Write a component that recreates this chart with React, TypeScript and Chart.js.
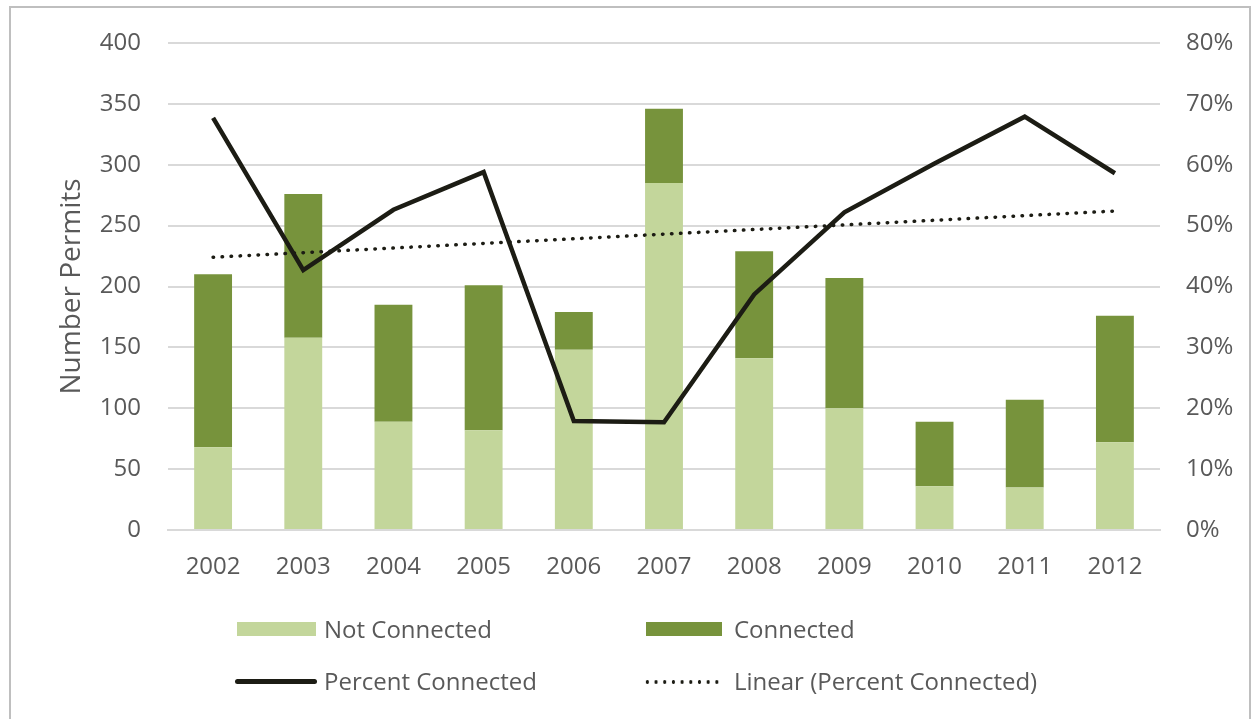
import React, { useEffect, useRef } from "react";
import { Chart, registerables } from "chart.js";

Chart.register(...registerables);

const years = ["2002", "2003", "2004", "2005", "2006", "2007", "2008", "2009", "2010", "2011", "2012"];
const notConnected = [68, 158, 89, 82, 148, 285, 141, 100, 36, 35, 72];
const connected = [142, 118, 96, 119, 31, 61, 88, 107, 53, 72, 104];
const percentConnected = [67.7, 42.7, 52.6, 58.8, 17.9, 17.7, 38.7, 52.2, 60.2, 67.9, 58.6];
const trendLine = [44.8, null, null, null, null, null, null, null, null, null, 52.4];

const FONT = "'Open Sans', 'DejaVu Sans', sans-serif";
const TXT = "#595959";
const LIGHT = "#C3D69B";
const DARK = "#77933C";
const LINE = "#1C1C14";
const TICK_SIZE = 24;

export default function App() {
  const ref = useRef<HTMLCanvasElement | null>(null);

  useEffect(() => {
    document.body.style.margin = "0";
    const ctx = ref.current!.getContext("2d")!;
    const chart = new Chart(ctx, {
      type: "bar",
      data: {
        labels: years,
        datasets: [
          {
            type: "line",
            label: "Percent Connected",
            data: percentConnected,
            yAxisID: "y1",
            borderColor: LINE,
            borderWidth: 4.5,
            pointRadius: 0,
            tension: 0,
            borderJoinStyle: "miter",
            order: 0,
          },
          {
            type: "line",
            label: "Linear (Percent Connected)",
            data: trendLine as any,
            yAxisID: "y1",
            borderColor: LINE,
            borderWidth: 3.5,
            borderDash: [0.5, 8.5],
            borderCapStyle: "round",
            pointRadius: 0,
            spanGaps: true,
            order: 0,
          },
          {
            type: "bar",
            label: "Not Connected",
            data: notConnected,
            backgroundColor: LIGHT,
            yAxisID: "y",
            stack: "s",
            barPercentage: 0.42,
            categoryPercentage: 1,
            order: 1,
          },
          {
            type: "bar",
            label: "Connected",
            data: connected,
            backgroundColor: DARK,
            yAxisID: "y",
            stack: "s",
            barPercentage: 0.42,
            categoryPercentage: 1,
            order: 1,
          },
        ],
      },
      options: {
        animation: false,
        responsive: false,
        maintainAspectRatio: false,
        layout: { padding: { left: 0, right: 0, top: 43, bottom: 129 } },
        plugins: { legend: { display: false }, tooltip: { enabled: false } },
        scales: {
          x: {
            stacked: true,
            grid: { display: false },
            border: { color: "#D9D9D9", width: 2 },
            ticks: { color: TXT, font: { family: FONT, size: TICK_SIZE }, padding: 15 },
            afterFit: (s: any) => {
              s.height = 60;
            },
          },
          y: {
            stacked: true,
            position: "left",
            min: 0,
            max: 400,
            ticks: { stepSize: 50, color: TXT, font: { family: FONT, size: TICK_SIZE }, padding: 27 },
            grid: { color: "#D9D9D9", lineWidth: 2, drawTicks: false },
            border: { display: false },
            title: {
              display: true,
              text: "Number Permits",
              color: TXT,
              font: { family: FONT, size: 28 },
              padding: { top: 55, bottom: 0 },
            },
            afterFit: (s: any) => {
              s.width = 168;
            },
          },
          y1: {
            position: "right",
            min: 0,
            max: 80,
            ticks: {
              stepSize: 10,
              color: TXT,
              font: { family: FONT, size: TICK_SIZE },
              padding: 26,
              callback: (v: any) => v + "%",
            },
            grid: { display: false, drawTicks: false },
            border: { display: false },
            afterFit: (s: any) => {
              s.width = 95;
            },
          },
        },
      },
    });
    return () => chart.destroy();
  }, []);

  const legendText: React.CSSProperties = {
    position: "absolute",
    fontFamily: FONT,
    fontSize: 24,
    color: TXT,
    lineHeight: "28px",
    whiteSpace: "nowrap",
  };

  return (
    <div style={{ position: "relative", width: 1255, height: 719, background: "#fff", overflow: "hidden" }}>
      <canvas ref={ref} width={1255} height={719} style={{ position: "absolute", left: 0, top: 0 }} />
      <div
        style={{
          position: "absolute",
          left: 9,
          top: 6,
          width: 1242,
          height: 740,
          border: "2px solid #BFBFBF",
          boxSizing: "border-box",
          pointerEvents: "none",
        }}
      />
      <div style={{ position: "absolute", left: 237, top: 622, width: 79, height: 14, background: LIGHT }} />
      <div style={{ ...legendText, left: 324, top: 615 }}>Not Connected</div>
      <div style={{ position: "absolute", left: 646, top: 622, width: 76, height: 14, background: DARK }} />
      <div style={{ ...legendText, left: 734, top: 615 }}>Connected</div>
      <div style={{ position: "absolute", left: 235, top: 679, width: 82, height: 5, borderRadius: 3, background: LINE }} />
      <div style={{ ...legendText, left: 324, top: 667 }}>Percent Connected</div>
      <div
        style={{
          position: "absolute",
          left: 643,
          top: 680,
          width: 78,
          height: 4,
          backgroundImage: "radial-gradient(circle, #1C1C14 1.6px, transparent 2px)",
          backgroundSize: "8.7px 4px",
        }}
      />
      <div style={{ ...legendText, left: 734, top: 667 }}>Linear (Percent Connected)</div>
    </div>
  );
}
